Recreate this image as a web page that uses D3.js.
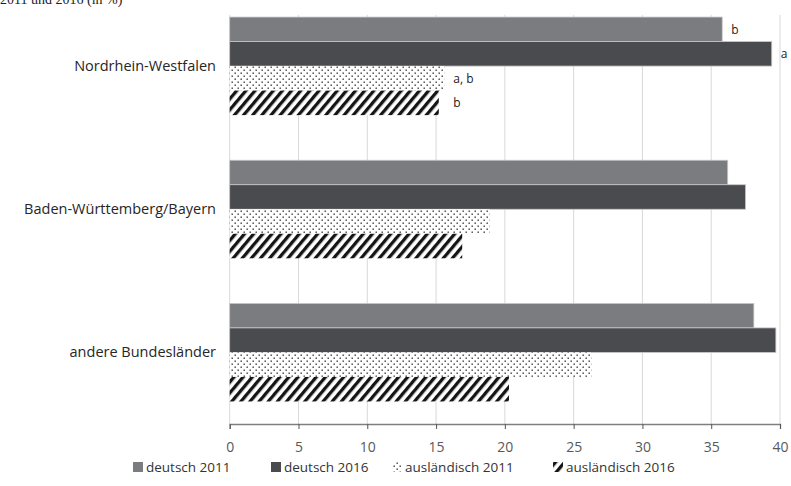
<!DOCTYPE html>
<html><head><meta charset="utf-8">
<script src="https://cdn.jsdelivr.net/npm/d3@7"></script>
<style>
html,body{margin:0;padding:0;background:#fff;overflow:hidden}
text{font-family:"Open Sans",Lato,sans-serif}
</style></head>
<body><svg id="c" width="791" height="486"></svg>
<script>
const categories = ["Nordrhein-Westfalen","Baden-Württemberg/Bayern","andere Bundesländer"];
const seriesNames = ["deutsch 2011","deutsch 2016","ausländisch 2011","ausländisch 2016"];
const deutsch2011 = [35.8, 36.2, 38.1];
const deutsch2016 = [39.4, 37.5, 39.7];
const auslaendisch2011 = [15.6, 18.9, 26.3];
const auslaendisch2016 = [15.2, 16.9, 20.3];
const seriesValues = [deutsch2011, deutsch2016, auslaendisch2011, auslaendisch2016];
const annotations = [
  {cat:0, series:0, text:"b"},
  {cat:0, series:1, text:"a"},
  {cat:0, series:2, text:"a, b"},
  {cat:0, series:3, text:"b"}
];
const xTicks = [0,5,10,15,20,25,30,35,40];
const titleText = "2011 und 2016 (in %)";

const svg = d3.select("#c");
const defs = svg.append("defs");
// dotted pattern
const pd = defs.append("pattern").attr("id","dots").attr("patternUnits","userSpaceOnUse")
  .attr("width",6).attr("height",6);
pd.append("rect").attr("width",6).attr("height",6).attr("fill","#fff");
pd.append("rect").attr("x",0.5).attr("y",0.5).attr("width",1.4).attr("height",1.4).attr("fill","#3a3a3a");
pd.append("rect").attr("x",3.5).attr("y",3.5).attr("width",1.4).attr("height",1.4).attr("fill","#3a3a3a");
// hatched pattern
const ph = defs.append("pattern").attr("id","hatch").attr("patternUnits","userSpaceOnUse")
  .attr("width",7).attr("height",7).attr("patternTransform","rotate(40)");
ph.append("rect").attr("width",7).attr("height",7).attr("fill","#fff");
ph.append("rect").attr("x",0).attr("y",0).attr("width",3.3).attr("height",7).attr("fill","#151515");

const fills = ["#7b7c80","#4a4b4e","url(#dots)","url(#hatch)"];

const x = d3.scaleLinear().domain([0,40]).range([229.7,780]);
const y = d3.scaleBand().domain(categories).range([-5.5,424]).paddingInner(0.315).paddingOuter(0.1575);
const ys = d3.scaleBand().domain(d3.range(4)).range([0,y.bandwidth()]);

// title (cut off at top, as in the reference)
svg.append("text").attr("x",0).attr("y",4).text(titleText)
  .style("font-family","'Liberation Serif','Times New Roman',serif").style("font-size","14px").attr("fill","#222");

// gridlines
svg.append("g").selectAll("line").data(xTicks).join("line")
  .attr("x1",d=>x(d)).attr("x2",d=>x(d)).attr("y1",15).attr("y2",424)
  .attr("stroke","#d9d9d9").attr("stroke-width",1);

// bars
const g = svg.append("g");
categories.forEach((c,ci)=>{
  seriesValues.forEach((vals,si)=>{
    g.append("rect")
      .attr("x",x(0)).attr("y",y(c)+ys(si))
      .attr("width",x(vals[ci])-x(0)).attr("height",ys.bandwidth())
      .attr("fill",fills[si])
      .attr("stroke",si<2?"#c8c8c8":"none").attr("stroke-width",0.8);
  });
});

// annotations
annotations.forEach(a=>{
  let v = seriesValues[a.series][a.cat];
  if(a.series>=2) v = Math.max(auslaendisch2011[a.cat], auslaendisch2016[a.cat]);
  svg.append("text").attr("x",x(v)+9).attr("y",y(categories[a.cat])+ys(a.series)+ys.bandwidth()/2)
    .attr("dy","0.35em").text(a.text).style("font-size","12px").attr("fill","#222");
});

// category labels
svg.append("g").selectAll("text").data(categories).join("text")
  .attr("x",216).attr("y",d=>y(d)+y.bandwidth()/2).attr("dy","0.35em")
  .attr("text-anchor","end").text(d=>d).style("font-size","14.5px").attr("fill","#262626");

// x axis
const ax = svg.append("g").attr("transform","translate(0,424)")
  .call(d3.axisBottom(x).tickValues(xTicks).tickSize(5).tickPadding(13));
ax.select(".domain").attr("stroke","#7f7f7f").attr("stroke-width",1.3);
ax.selectAll(".tick line").attr("stroke","#555");
ax.selectAll(".tick text").style("font-size","14px").style("font-family","'Open Sans',Lato,sans-serif").attr("fill","#595959");

// legend
const legendX = [133, 271, 392, 553];
const lg = svg.append("g");
seriesNames.forEach((n,i)=>{
  lg.append("rect").attr("x",legendX[i]).attr("y",462).attr("width",10).attr("height",10)
    .attr("fill",fills[i]);
  lg.append("text").attr("x",legendX[i]+13).attr("y",467).attr("dy","0.35em")
    .text(n).style("font-size","13.5px").attr("fill","#333");
});
</script></body></html>
